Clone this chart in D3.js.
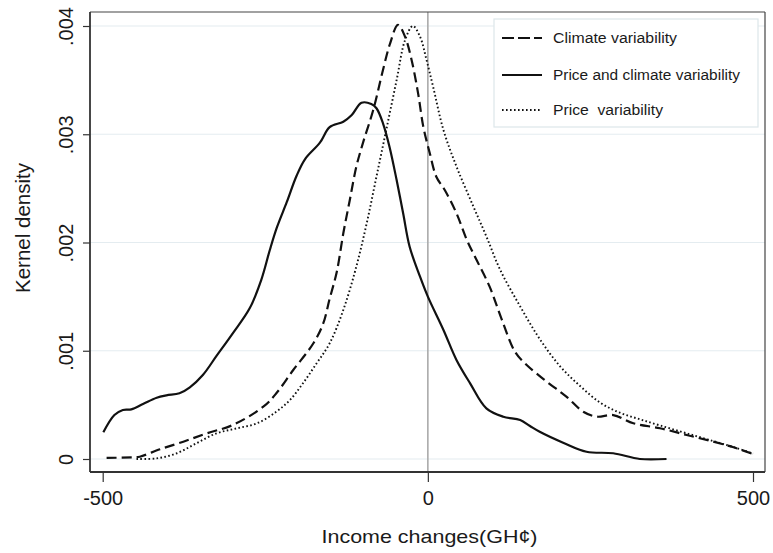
<!DOCTYPE html>
<html><head><meta charset="utf-8">
<script src="https://cdn.jsdelivr.net/npm/d3@7"></script>
<style>body{margin:0;background:#fff}svg{display:block}text{font-family:"Liberation Sans",Arial,sans-serif;fill:#1a1a1a}</style>
</head><body><svg id="c" width="773" height="553"></svg>
<script>
// Data: [income change, kernel density]
const climate = [[-494,0.00001],[-453,0.000016],[-443,0.000021],[-412,0.00009],[-376,0.00016],[-340,0.000237],[-300,0.000314],[-253,0.000483],[-233,0.000607],[-207,0.000822],[-176,0.001069],[-161,0.00125],[-151,0.00148],[-140,0.00173],[-130,0.002085],[-120,0.002393],[-110,0.0027],[-100,0.002916],[-84,0.003224],[-69,0.003594],[-58,0.00384],[-46,0.00401],[-35,0.0039],[-25,0.003686],[-15,0.003378],[-7,0.00307],[3,0.002824],[13,0.002608],[26,0.002485],[44,0.00227],[60,0.002023],[75,0.001838],[95,0.001592],[113,0.0013],[134,0.000991],[152,0.000868],[183,0.000714],[213,0.000576],[239,0.000437],[260,0.000391],[285,0.000406],[316,0.00033],[357,0.000284],[398,0.000222],[439,0.00016],[470,0.000108],[500,0.000046]];
const priceClimate = [[-499,0.000247],[-482,0.000406],[-469,0.000453],[-456,0.000459],[-438,0.000508],[-417,0.000566],[-402,0.000588],[-382,0.000607],[-366,0.000662],[-346,0.000776],[-325,0.000952],[-300,0.001161],[-274,0.001392],[-256,0.001658],[-243,0.001931],[-232,0.002141],[-217,0.002372],[-202,0.002614],[-189,0.002769],[-166,0.002922],[-151,0.003066],[-130,0.003116],[-117,0.003178],[-102,0.003291],[-87,0.00328],[-79,0.00324],[-69,0.003101],[-59,0.002885],[-48,0.002577],[-38,0.00227],[-28,0.001961],[-12,0.001684],[0,0.0015],[24,0.001192],[44,0.000915],[65,0.000699],[90,0.000468],[116,0.000391],[142,0.00036],[157,0.000305],[172,0.000252],[208,0.000151],[244,0.000067],[285,0.000053],[326,0],[367,0]];
const price = [[-448,0],[-417,0.000006],[-386,0.000053],[-356,0.000145],[-325,0.000237],[-294,0.000283],[-263,0.000329],[-233,0.000437],[-212,0.000545],[-192,0.0007],[-171,0.000884],[-151,0.001069],[-130,0.001377],[-110,0.001777],[-94,0.002178],[-79,0.002609],[-64,0.003039],[-48,0.003501],[-35,0.003871],[-23,0.004],[-12,0.003901],[-2,0.003686],[8,0.003441],[24,0.003039],[44,0.002702],[70,0.002333],[90,0.002056],[111,0.00175],[142,0.001409],[172,0.001109],[203,0.000859],[234,0.000675],[265,0.000521],[295,0.000428],[326,0.000367],[357,0.00031],[398,0.000237],[439,0.000165],[470,0.00011],[500,0.00005]];
const yTicks = [0, 0.001, 0.002, 0.003, 0.004];
const yTickLabels = ["0", ".001", ".002", ".003", ".004"];
const xTicks = [-500, 0, 500];
const xTickLabels = ["-500", "0", "500"];
const seriesNames = ["Climate variability", "Price and climate variability", "Price  variability"];

const svg = d3.select("#c");
const L = 90, R = 765, T = 12, B = 472;
const x = d3.scaleLinear().domain([-500, 500]).range([102.7, 753]);
const y = d3.scaleLinear().domain([0, 0.004]).range([459, 26]);

// gridlines
svg.append("g").selectAll("line").data(yTicks).join("line")
  .attr("x1", L).attr("x2", R).attr("y1", d => y(d)).attr("y2", d => y(d))
  .attr("stroke", "#e4ecf0").attr("stroke-width", 1.2);

// zero reference line
svg.append("line").attr("x1", x(0)).attr("x2", x(0)).attr("y1", T).attr("y2", B)
  .attr("stroke", "#aaaaaa").attr("stroke-width", 1.6);

// frame
svg.append("line").attr("x1", L).attr("x2", R).attr("y1", T).attr("y2", T).attr("stroke", "#444").attr("stroke-width", 1.2);
svg.append("line").attr("x1", R).attr("x2", R).attr("y1", T).attr("y2", B).attr("stroke", "#444").attr("stroke-width", 1.2);

// axes
const yAxis = d3.axisLeft(y).tickValues(yTicks).tickFormat((d, i) => yTickLabels[i]).tickSize(7).tickSizeOuter(0);
const gy = svg.append("g").attr("transform", `translate(${L},0)`).call(yAxis);
gy.select(".domain").attr("d", `M0,${T}V${B}`).attr("stroke", "#333").attr("stroke-width", 1.8);
gy.selectAll(".tick line").attr("stroke", "#333").attr("stroke-width", 1.2);
gy.selectAll(".tick text").attr("transform", "rotate(-90)").attr("x", 0).attr("y", -17)
  .attr("dy", 0).attr("text-anchor", "middle").style("font-size", "20px").attr("fill", "#1a1a1a")
  .attr("font-family", "Liberation Sans, Arial, sans-serif");

const xAxis = d3.axisBottom(x).tickValues(xTicks).tickFormat((d, i) => xTickLabels[i]).tickSize(10).tickSizeOuter(0);
const gx = svg.append("g").attr("transform", `translate(0,${B})`).call(xAxis);
gx.select(".domain").attr("d", `M${L},0H${R}`).attr("stroke", "#333").attr("stroke-width", 1.8);
gx.selectAll(".tick line").attr("stroke", "#333").attr("stroke-width", 1.2);
gx.selectAll(".tick text").attr("y", 32.5).attr("dy", 0).style("font-size", "20px").attr("fill", "#1a1a1a")
  .attr("font-family", "Liberation Sans, Arial, sans-serif");

// titles
svg.append("text").attr("x", 429.5).attr("y", 543).attr("text-anchor", "middle")
  .style("font-size", "18.5px").attr("textLength", 216).attr("lengthAdjust", "spacingAndGlyphs")
  .text("Income changes(GH¢)");
svg.append("text").attr("transform", "translate(30,228) rotate(-90)").attr("text-anchor", "middle")
  .style("font-size", "19.5px").attr("textLength", 130).attr("lengthAdjust", "spacingAndGlyphs")
  .text("Kernel density");

// curves
const line = d3.line().x(d => x(d[0])).y(d => y(d[1])).curve(d3.curveCatmullRom.alpha(0.5));
const styles = [
  {data: climate, dash: "10,5", w: 2.2},
  {data: priceClimate, dash: null, w: 2.2},
  {data: price, dash: "1.6,2.4", w: 1.9}
];
styles.forEach(s => {
  svg.append("path").datum(s.data).attr("d", line).attr("fill", "none")
    .attr("stroke", "#111").attr("stroke-width", s.w)
    .attr("stroke-dasharray", s.dash);
});

// legend
const lg = svg.append("g");
lg.append("rect").attr("x", 494).attr("y", 19).attr("width", 264).attr("height", 108)
  .attr("fill", "#fff").attr("stroke", "#dde6ea").attr("stroke-width", 1.2);
const legY = [38, 75, 110];
const legLen = [124, 187, 110];
const legDash = ["12,4", null, "1.6,2.4"];
const legW = [2.2, 2.2, 1.9];
seriesNames.forEach((n, i) => {
  lg.append("line").attr("x1", 502).attr("x2", 542).attr("y1", legY[i]).attr("y2", legY[i])
    .attr("stroke", "#111").attr("stroke-width", legW[i]).attr("stroke-dasharray", legDash[i]);
  lg.append("text").attr("x", 553).attr("y", legY[i] + 5).style("font-size", "14px")
    .attr("textLength", legLen[i]).attr("lengthAdjust", "spacingAndGlyphs")
    .attr("xml:space", "preserve").style("white-space", "pre").text(n);
});
</script></body></html>
